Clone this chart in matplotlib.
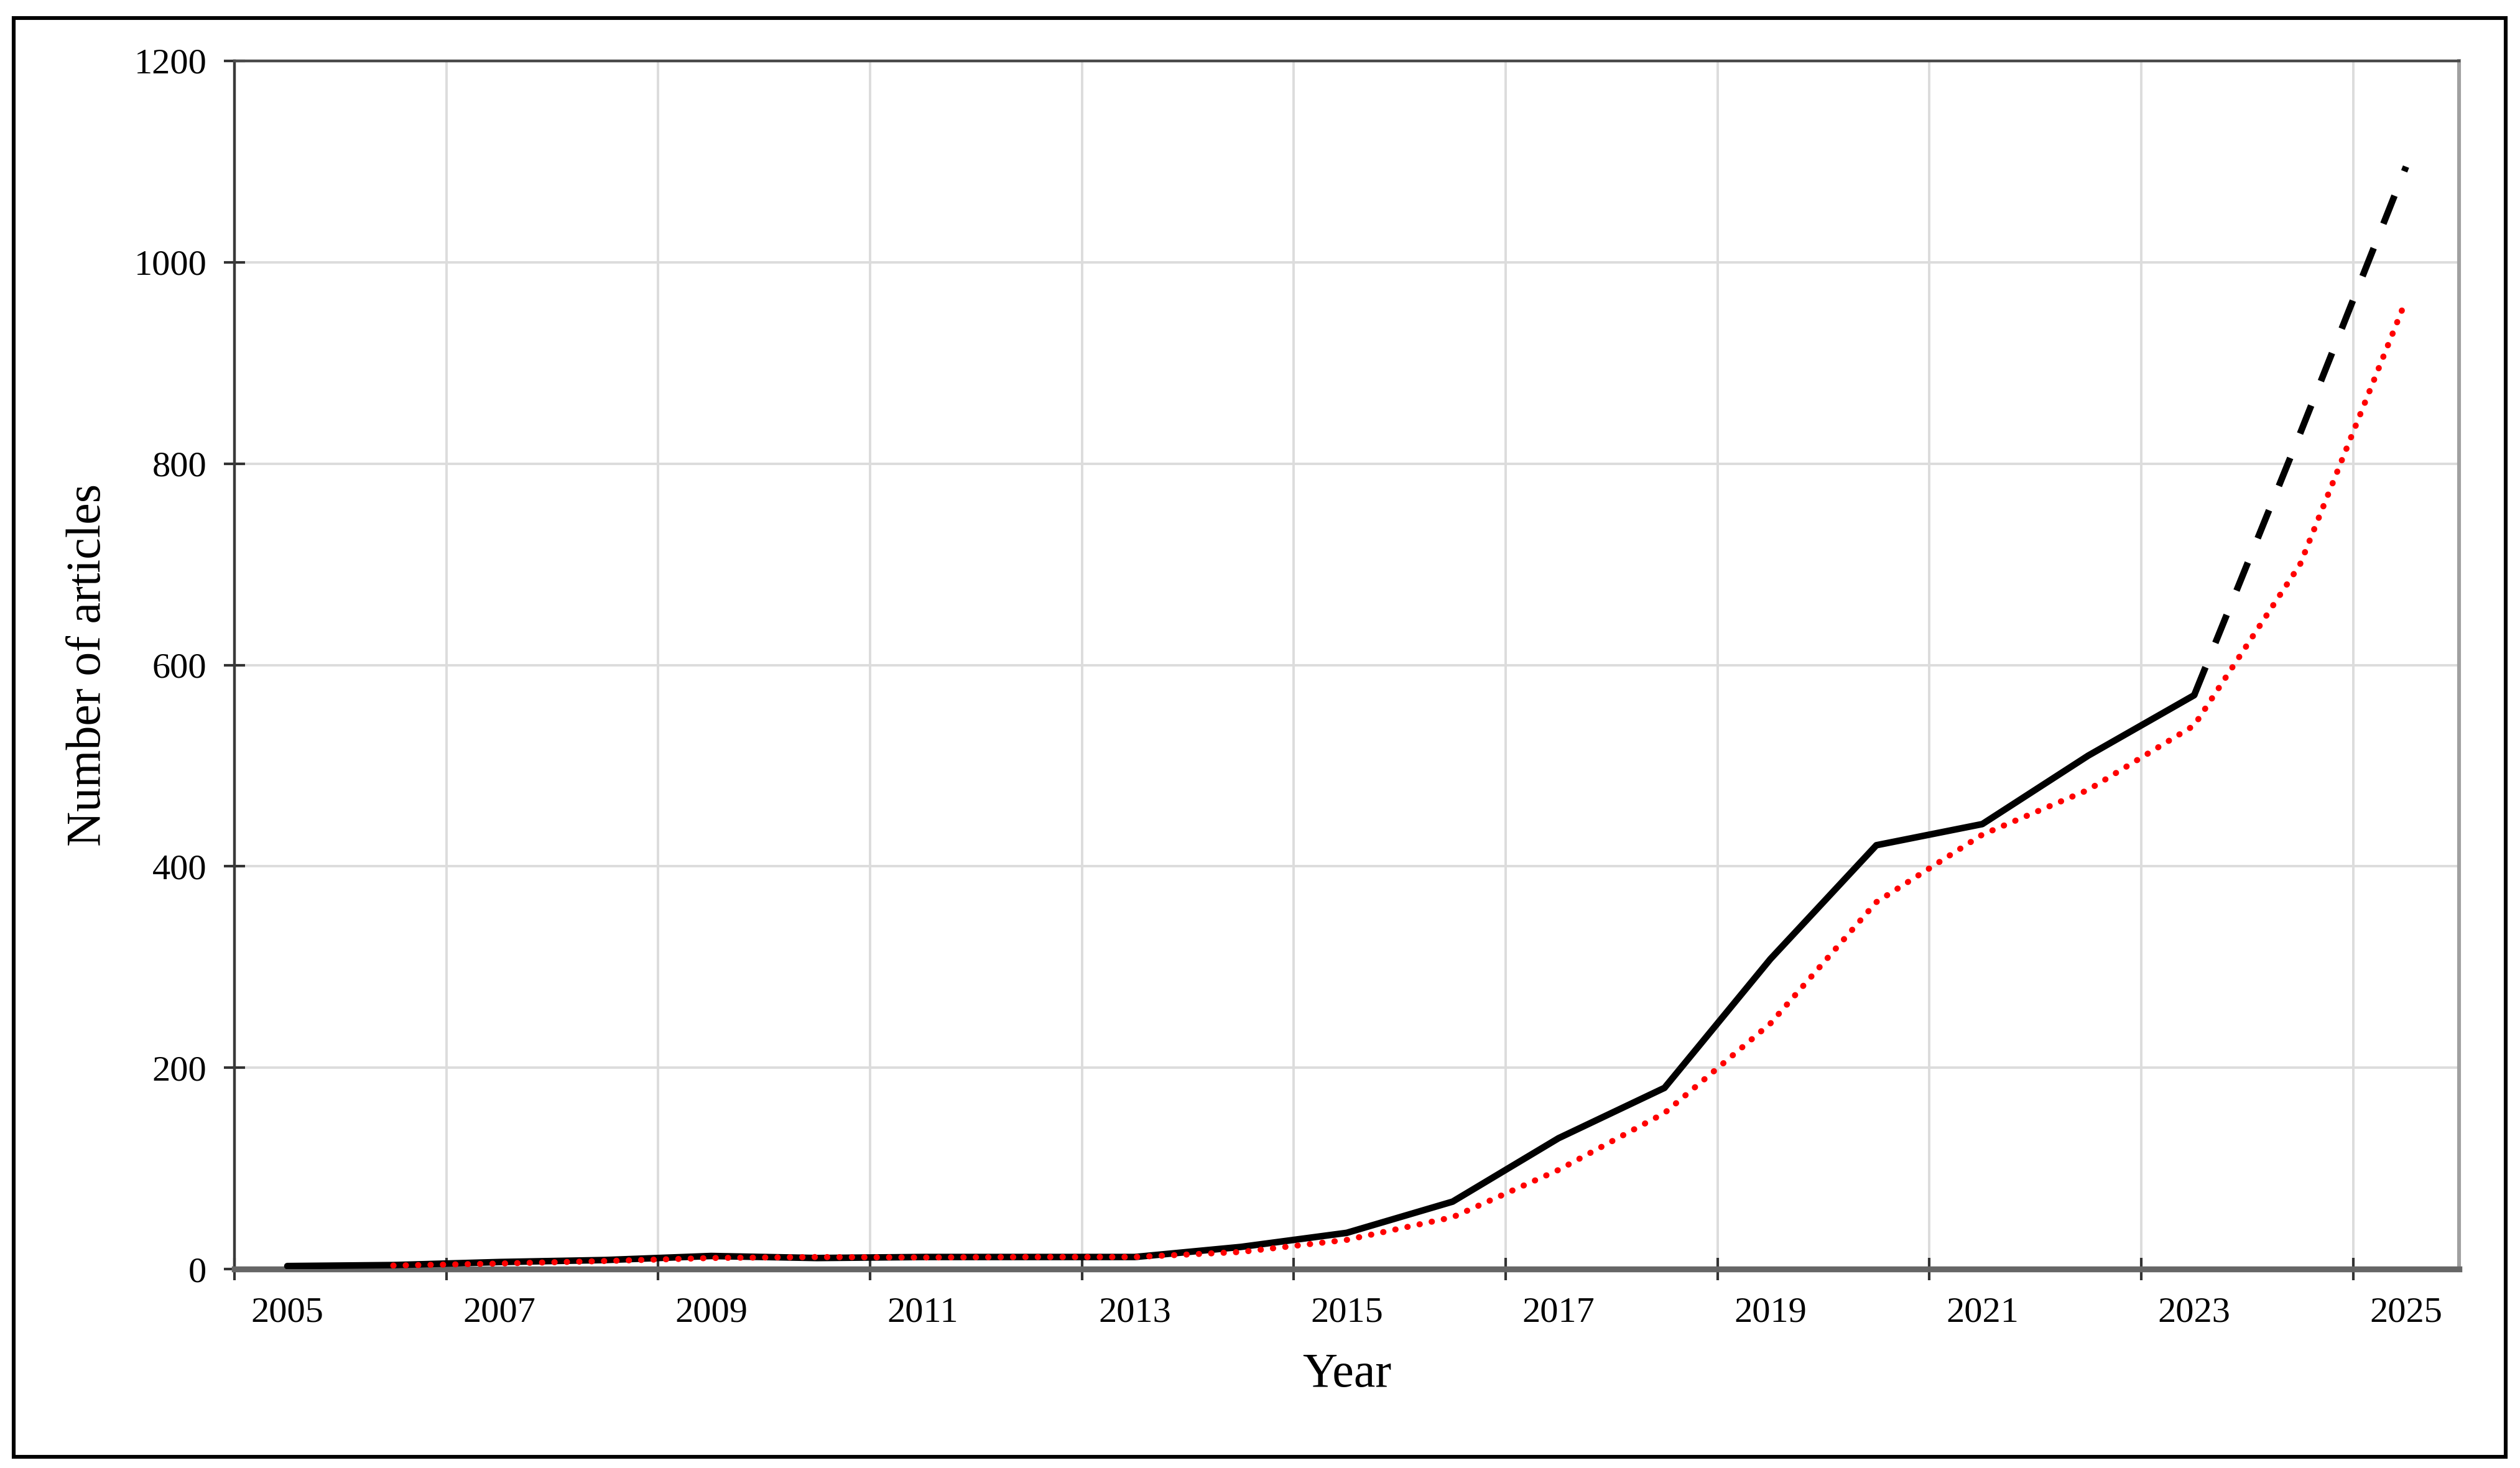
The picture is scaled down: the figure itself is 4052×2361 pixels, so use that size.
import matplotlib
matplotlib.use("Agg")
import matplotlib.pyplot as plt
import numpy as np
import pandas as pd
from matplotlib.patches import Rectangle

# ---------------- data ----------------
years = list(range(2005, 2026))
actual_years = list(range(2005, 2024))
articles = [3, 4, 7, 9, 13, 11, 12, 12, 12, 22, 36, 67, 130, 180, 308, 421, 442, 510, 570]
forecast_years = [2024, 2025]
forecast = [830, 1095]
tick_label_years = [str(y) for y in range(2005, 2026, 2)]
y_ticks = [0, 200, 400, 600, 800, 1000, 1200]

# 2-period moving-average trendline (as in the original spreadsheet chart)
all_counts = pd.Series(articles + forecast, index=years)
moving_avg = all_counts.rolling(2).mean()

plt.rcParams["font.family"] = ["Liberation Serif", "DejaVu Serif"]

fig = plt.figure(figsize=(20.26, 11.805), dpi=200)
ax = fig.add_axes([0.0930, 0.1355, 0.8828, 0.8230])

pos = {y: i for i, y in enumerate(years)}
x_act = [pos[y] for y in actual_years]
x_fc = [pos[actual_years[-1]]] + [pos[y] for y in forecast_years]
x_ma = [pos[y] for y in years]

ax.plot(x_act, articles, color="black", lw=3.8, solid_joinstyle="round",
        solid_capstyle="round", zorder=4)
ax.plot(x_fc, [articles[-1]] + forecast, color="black", lw=3.8,
        linestyle=(0, (4.6, 4.0)), dash_capstyle="butt", zorder=4)
ax.plot(x_ma, moving_avg.values, color="#ff0000", lw=3.5,
        linestyle=(0, (0.05, 2.0)), dash_capstyle="round", zorder=5)

ax.set_xlim(-0.5, len(years) - 0.5)
ax.set_ylim(0, 1200)

# category axis: ticks between categories, labels centred on categories
ax.set_xticks(np.arange(-0.5, len(years) - 1, 2))
ax.set_xticks(np.arange(0, len(years), 2), minor=True)
ax.set_xticklabels([], minor=False)
ax.set_xticklabels(tick_label_years, minor=True)
ax.tick_params(axis="x", which="major", direction="inout", length=13,
               width=1.5, color="#333333", labelbottom=False)
ax.tick_params(axis="x", which="minor", length=0, pad=16, labelsize=21)

ax.set_yticks(y_ticks)
ax.tick_params(axis="y", direction="inout", length=12, width=1.5,
               color="#333333", pad=10, labelsize=21)

ax.grid(True, which="major", axis="both", color="#dcdcdc", lw=1.4, zorder=0)
ax.set_axisbelow(True)

for side, (c, w) in {"left": ("#3a3a3a", 1.6), "top": ("#4a4a4a", 1.6),
                     "bottom": ("#666666", 3.4), "right": ("#a0a0a0", 2.2)}.items():
    ax.spines[side].set_color(c)
    ax.spines[side].set_linewidth(w)

ax.text(-0.0657, 0.5, "Number of articles", rotation=90, transform=ax.transAxes,
        ha="center", va="center", fontsize=28)
ax.text(0.5, -0.0875, "Year", transform=ax.transAxes,
        ha="center", va="center", fontsize=28)

fig.patches.append(Rectangle((0.0054, 0.0076), 0.9889, 0.9801,
                             transform=fig.transFigure, fill=False,
                             lw=2.2, ec="black"))

fig.savefig("out.png", dpi=200)
